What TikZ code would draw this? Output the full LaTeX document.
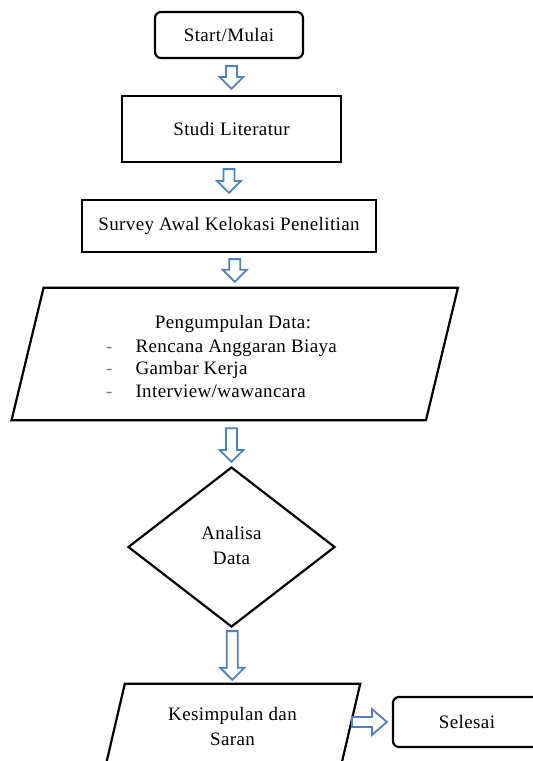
\documentclass[tikz,border=0pt]{standalone}
\usepackage{fontspec}
\setmainfont{Liberation Serif}[LetterSpace=2]
\usetikzlibrary{shapes.geometric,calc}
\definecolor{arrowblue}{HTML}{4F81BD}

% hollow block arrow, down from #1 to #2 with gaps #3 and #4
\newcommand{\blockdown}[4]{%
\draw[blockarrow] let \p1=(#1.south), \p2=(#2.north) in
  (\x2-5.5pt,\y1-#3pt) -- (\x2+5.5pt,\y1-#3pt) -- (\x2+5.5pt,\y2+#4pt+12pt)
  -- (\x2+12pt,\y2+#4pt+12pt) -- (\x2,\y2+#4pt) -- (\x2-12pt,\y2+#4pt+12pt)
  -- (\x2-5.5pt,\y2+#4pt+12pt) -- cycle;}
% same, to the right
\newcommand{\blockright}[2]{%
\draw[blockarrow] let \p1=(#1.east), \p2=(#2.west) in
  (\x1+2pt,\y2+5pt) -- (\x2-20pt,\y2+5pt) -- (\x2-20pt,\y2+13pt)
  -- (\x2-5pt,\y2) -- (\x2-20pt,\y2-13pt) -- (\x2-20pt,\y2-5pt)
  -- (\x1+2pt,\y2-5pt) -- cycle;}

\begin{document}
\begin{tikzpicture}[x=1pt, y=-1pt,
  txt/.style={font=\fontsize{19}{22.5}\selectfont, inner sep=0pt},
  boxline/.style={draw, line width=2.2pt},
  endbox/.style={txt, boxline, rounded corners=6pt, minimum width=148pt, minimum height=46pt},
  procbox/.style={txt, boxline, rectangle},
  blockarrow/.style={draw=arrowblue, line width=1.8pt, fill=white, line join=miter}]
\useasboundingbox (0,0) rectangle (533,761);

\node[endbox] (start) at (229,35) {Start/Mulai};
\node[procbox, minimum width=219pt, minimum height=66pt] (studi) at (231.5,129) {Studi Literatur};
\node[procbox, minimum width=294pt, minimum height=52pt] (survey) at (229,226) {Survey Awal Kelokasi Penelitian};

% data input, slanted box
\node[minimum width=414pt, minimum height=132pt] (kumpul) at (234.75,354) {};
\draw[boxline] ($(kumpul.north west)+(16,0)$) -- ($(kumpul.north east)+(16,0)$)
  -- ($(kumpul.south east)-(16,0)$) -- ($(kumpul.south west)-(16,0)$) -- cycle;
\node[txt] (kumpulhead) at (233,324) {Pengumpulan Data:};
\node[txt, anchor=west] (kumpullist) at (106,370) {\begin{tabular}{@{}l@{\hspace{23pt}}l@{}}
  \textcolor{gray}{-} & Rencana Anggaran Biaya\\
  \textcolor{gray}{-} & Gambar Kerja\\
  \textcolor{gray}{-} & Interview/wawancara
  \end{tabular}};

\node[txt, boxline, diamond, minimum width=207pt, minimum height=160pt] (analisa) at (231.5,547)
  {\begin{tabular}{c}Analisa\\[2.5pt] Data\end{tabular}};

% conclusion, slanted box
\node[minimum width=235pt, minimum height=87pt] (simpul) at (232.3,727.5) {};
\draw[boxline] ($(simpul.north west)+(10.2,0)$) -- ($(simpul.north east)+(10.2,0)$)
  -- ($(simpul.south east)-(10.2,0)$) -- ($(simpul.south west)-(10.2,0)$) -- cycle;
\node[txt] (simpultext) at (232.5,728) {\begin{tabular}{c}Kesimpulan dan\\[2.5pt] Saran\end{tabular}};

\node[endbox, minimum height=50pt] (selesai) at (467,722) {Selesai};

% arrows
\blockdown{start}{studi}{7}{6}
\blockdown{studi}{survey}{6}{6}
\blockdown{survey}{kumpul}{6}{6}
\blockdown{kumpul}{analisa}{8}{4}
\blockdown{analisa}{simpul}{3}{4}
\blockright{simpul}{selesai}
\end{tikzpicture}
\end{document}
